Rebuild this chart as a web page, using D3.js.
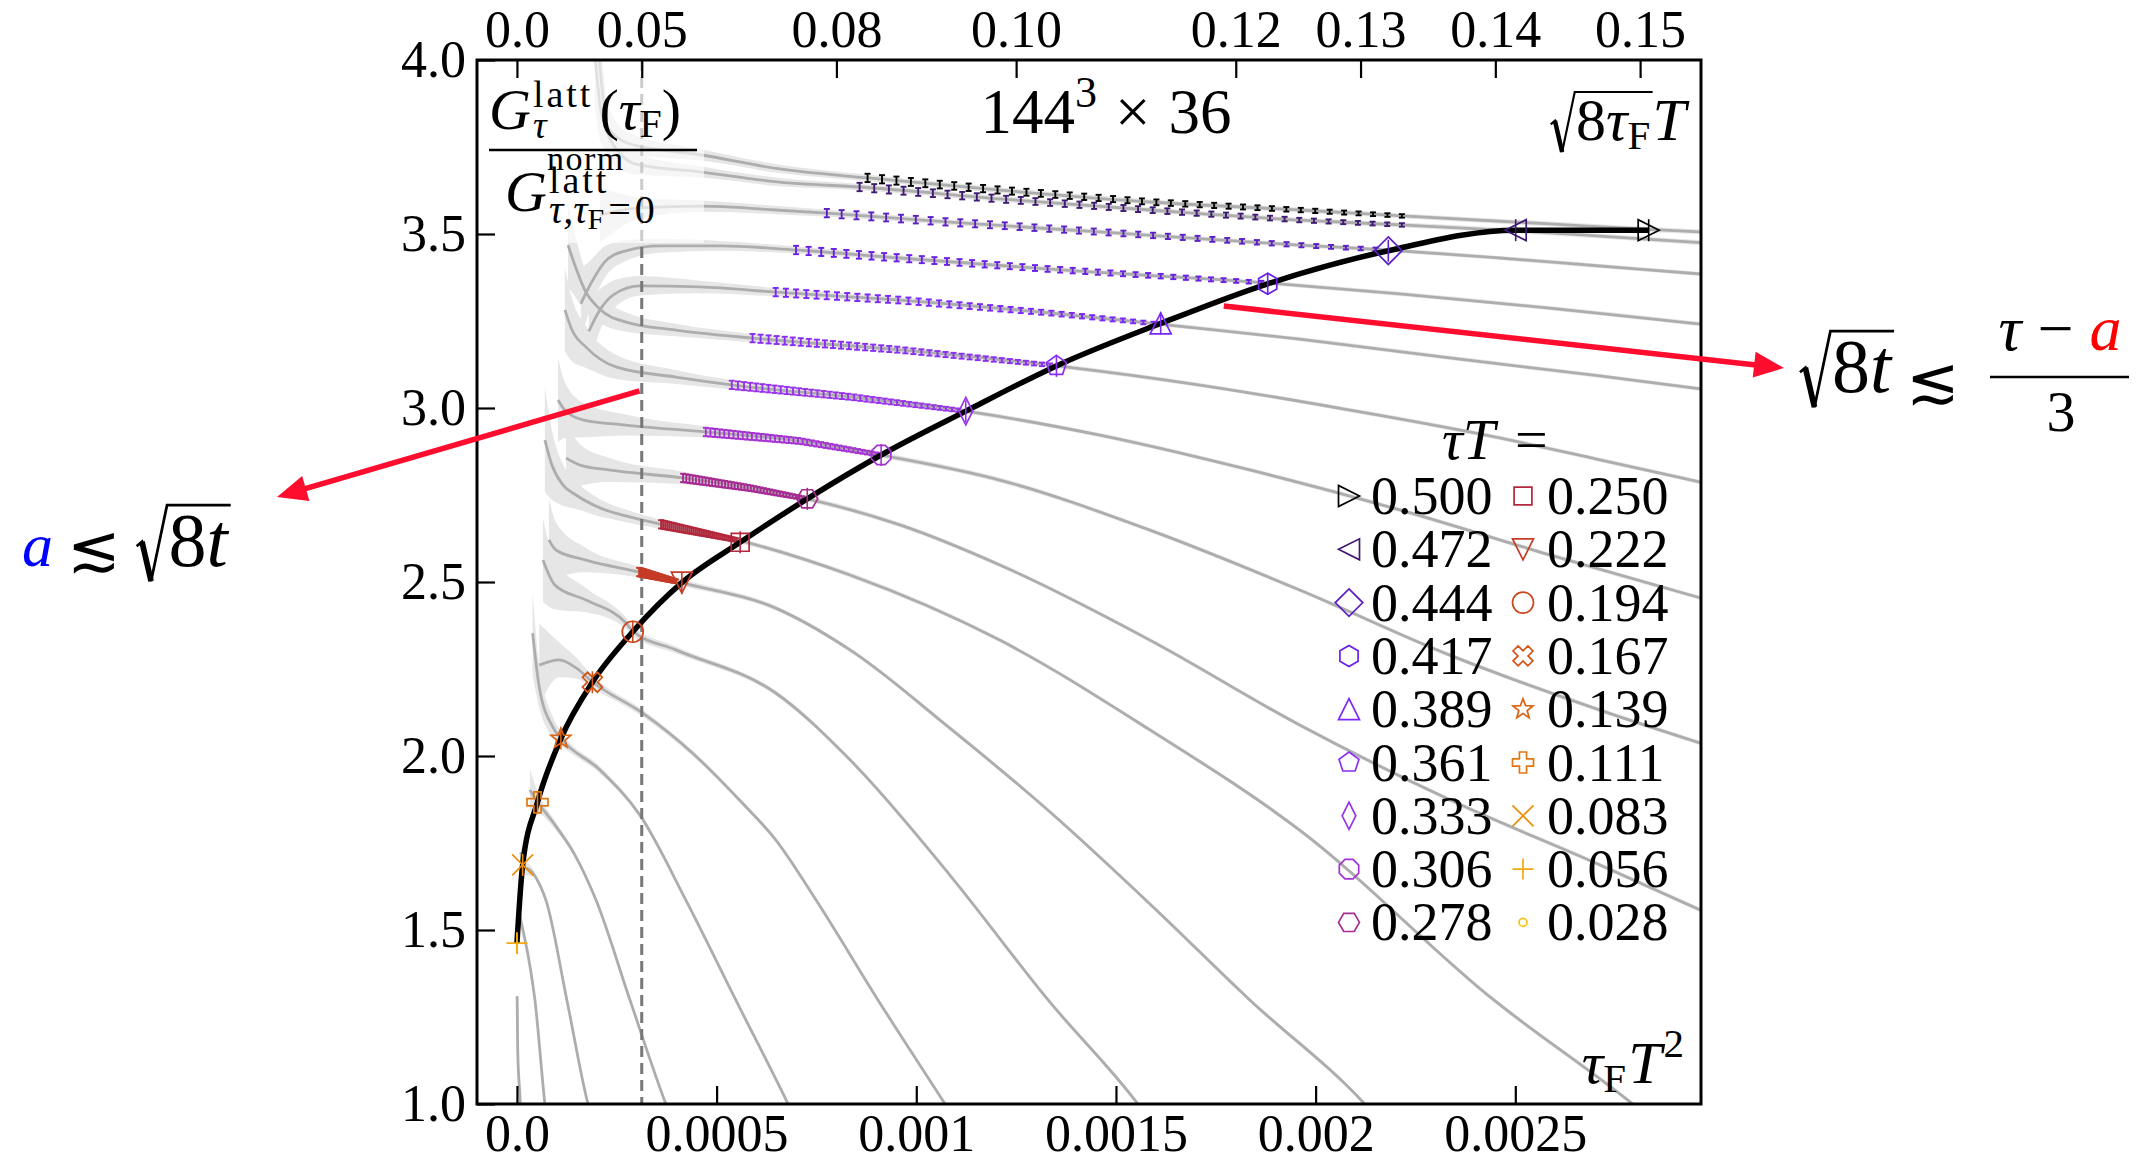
<!DOCTYPE html>
<html>
<head>
<meta charset="utf-8">
<script src="https://cdn.jsdelivr.net/npm/d3@7"></script>
<style>
  body { margin: 0; background: #ffffff; }
  svg { display: block; }
  text { font-family: "Liberation Serif", "DejaVu Serif", "DejaVu Sans", serif; }
</style>
</head>
<body>
<svg id="chart" width="2149" height="1158"></svg>
<script>
// ---------------------------------------------------------------------------
// Series: one flow curve per imaginary time tau*T
// ---------------------------------------------------------------------------
const tauT = ["0.500","0.472","0.444","0.417","0.389","0.361","0.333","0.306","0.278",
              "0.250","0.222","0.194","0.167","0.139","0.111","0.083","0.056","0.028"];

const seriesColors = ["#000000","#3f1a72","#5b1fc4","#6a1ee6","#7b27f7","#8a2ff2","#9933ea","#a532d2","#a62c92",
                      "#b3283c","#c53c27","#cb481f","#d25417","#da6313","#e2760f","#ea8e0c","#f1a90f","#f4c417"];

const markerTypes = ["triRight","triLeft","diamond","hexagon1","triUp","pentagon","thinDiamond","octagon","hexagon2",
                     "square","triDown","circle","xFilled","star","plusFilled","cross","plus","point"];

const markerX = [0.002834,0.002501,0.002182,0.00188,0.001612,0.001351,0.001124,0.000912,0.000727,
                 0.000559,0.000413,0.00029,0.000189,0.00011,0.0000515,0.0000143,0.0,null];
const markerY = [3.511,3.511,3.452,3.357,3.243,3.121,2.991,2.865,2.739,
                 2.614,2.498,2.357,2.212,2.05,1.867,1.687,1.462,null];

// flow curves: [tau_F T^2, ratio, half width of the error band]
const curve500 = [[0.000195,4.02,0.15],[0.000215,3.83,0.08],[0.00028,3.76,0.03],[0.000463,3.727,0.016],[0.000658,3.687,0.012],[0.000879,3.661,0.009],[0.001209,3.626,0.008],[0.001585,3.592,0.007],[0.00196,3.569,0.007],[0.002216,3.552,0.007],[0.002586,3.529,0.007],[0.002837,3.513,0.007],[0.002964,3.506,0.007]];
const curve472 = [[0.000205,4.02,0.15],[0.00023,3.78,0.07],[0.0003,3.70,0.03],[0.000463,3.678,0.016],[0.000658,3.649,0.012],[0.000859,3.635,0.009],[0.001209,3.601,0.008],[0.001585,3.569,0.007],[0.00196,3.540,0.007],[0.002216,3.526,0.007],[0.002501,3.509,0.007],[0.002712,3.494,0.007],[0.002964,3.475,0.007]];
const curve444 = [[0.000208,3.555,0.08],[0.000308,3.575,0.03],[0.000463,3.580,0.016],[0.000648,3.569,0.012],[0.000776,3.560,0.01],[0.001084,3.534,0.008],[0.00146,3.506,0.007],[0.00196,3.468,0.006],[0.002181,3.454,0.006],[0.002461,3.431,0.006],[0.002712,3.408,0.006],[0.002964,3.385,0.006]];
const curve417 = [[0.00016,3.30,0.10],[0.000183,3.353,0.07],[0.00022,3.420,0.045],[0.00027,3.451,0.03],[0.000358,3.466,0.02],[0.000508,3.466,0.014],[0.000699,3.454,0.01],[0.000959,3.431,0.008],[0.001335,3.399,0.007],[0.001885,3.359,0.006],[0.002211,3.328,0.006],[0.002586,3.287,0.006],[0.002964,3.241,0.006]];
const curve389 = [[0.00018,3.22,0.10],[0.000208,3.282,0.06],[0.000245,3.328,0.04],[0.000308,3.351,0.028],[0.000458,3.348,0.018],[0.000648,3.333,0.012],[0.000959,3.310,0.008],[0.001335,3.273,0.007],[0.00161,3.241,0.006],[0.00196,3.198,0.006],[0.002336,3.144,0.006],[0.002712,3.092,0.006],[0.002964,3.055,0.006]];
const curve361 = [[0.000128,3.468,0.12],[0.000145,3.411,0.09],[0.00017,3.339,0.06],[0.000208,3.284,0.04],[0.000273,3.247,0.028],[0.000398,3.224,0.018],[0.000588,3.201,0.012],[0.000959,3.167,0.008],[0.001352,3.121,0.007],[0.00171,3.066,0.006],[0.002086,2.994,0.006],[0.002461,2.914,0.006],[0.002712,2.851,0.006],[0.002964,2.787,0.006]];
const curve333 = [[0.00012,3.282,0.12],[0.000138,3.224,0.09],[0.000173,3.175,0.06],[0.000248,3.118,0.035],[0.000398,3.089,0.02],[0.000541,3.066,0.013],[0.000834,3.032,0.009],[0.001124,2.991,0.007],[0.00146,2.922,0.006],[0.001835,2.822,0.006],[0.002211,2.707,0.006],[0.002586,2.578,0.006],[0.002964,2.454,0.006]];
const curve306 = [[0.000103,3.023,0.12],[0.00012,2.994,0.08],[0.000165,2.966,0.05],[0.000273,2.951,0.03],[0.000473,2.931,0.016],[0.000709,2.905,0.01],[0.000911,2.865,0.008],[0.001209,2.793,0.007],[0.001585,2.649,0.006],[0.00196,2.477,0.006],[0.002336,2.290,0.006],[0.002712,2.132,0.006],[0.002964,2.037,0.006]];
const curve278 = [[0.000123,2.856,0.10],[0.000158,2.836,0.06],[0.00023,2.822,0.035],[0.000416,2.799,0.018],[0.000583,2.770,0.011],[0.000726,2.739,0.008],[0.000959,2.664,0.007],[0.001209,2.549,0.006],[0.001585,2.333,0.006],[0.00196,2.089,0.006],[0.002336,1.874,0.006],[0.002712,1.687,0.006],[0.002964,1.557,0.006]];
const curve250 = [[0.00007,2.908,0.15],[0.0000876,2.836,0.10],[0.000115,2.779,0.06],[0.000148,2.750,0.04],[0.000208,2.713,0.025],[0.000273,2.690,0.018],[0.000356,2.667,0.013],[0.000561,2.618,0.008],[0.000834,2.520,0.007],[0.001209,2.333,0.006],[0.001585,2.075,0.006],[0.00196,1.787,0.006],[0.002446,1.299,0.006],[0.002794,1.0,0.006],[0.0029,0.9,0.006]];
const curve222 = [[0.00008,2.621,0.12],[0.0000976,2.592,0.08],[0.000173,2.563,0.035],[0.000305,2.529,0.016],[0.000416,2.497,0.01],[0.000648,2.425,0.007],[0.000834,2.305,0.006],[0.001084,2.080,0.006],[0.001335,1.839,0.006],[0.001585,1.575,0.006],[0.001835,1.299,0.006],[0.002123,1.0,0.006],[0.0022,0.9,0.006]];
const curve194 = [[0.0000651,2.563,0.12],[0.0000951,2.491,0.07],[0.000173,2.448,0.035],[0.000273,2.382,0.016],[0.00029,2.359,0.014],[0.000398,2.305,0.01],[0.000648,2.181,0.007],[0.000834,1.989,0.006],[0.001084,1.658,0.006],[0.00133,1.299,0.006],[0.001555,1.0,0.006],[0.0016,0.93,0.006]];
const curve167 = [[0.0000558,2.261,0.12],[0.000106,2.276,0.05],[0.000148,2.253,0.03],[0.00019,2.212,0.018],[0.000315,2.123,0.01],[0.00044,2.008,0.008],[0.000565,1.864,0.006],[0.000648,1.759,0.006],[0.000749,1.586,0.006],[0.000904,1.299,0.006],[0.001072,1.0,0.006],[0.0011,0.95,0.006]];
const curve139 = [[0.0000393,2.353,0.12],[0.0000558,2.199,0.06],[0.0000894,2.084,0.03],[0.00011,2.051,0.02],[0.000208,1.960,0.01],[0.000308,1.830,0.007],[0.000423,1.586,0.006],[0.000548,1.299,0.006],[0.000679,1.0,0.006],[0.0007,0.95,0.006]];
const curve111 = [[0.0000326,1.902,0.06],[0.0000518,1.868,0.03],[0.0000951,1.802,0.012],[0.000145,1.716,0.008],[0.000198,1.586,0.006],[0.000283,1.299,0.006],[0.000373,1.0,0.006],[0.00039,0.95,0.006]];
const curve083 = [[0.00001,1.724,0.05],[0.0000143,1.687,0.03],[0.0000376,1.667,0.012],[0.0000576,1.629,0.008],[0.0000726,1.586,0.006],[0.000125,1.299,0.006],[0.000178,1.0,0.006],[0.00019,0.95,0.006]];
const curve056 = [[0.000005,1.552,0.03],[0.000015,1.5,0.012],[0.00003,1.414,0.006],[0.000045,1.299,0.006],[0.00007,1.0,0.006],[0.000075,0.95,0.006]];
const curve028 = [[0.0000005,1.31,0.006],[0.000002,1.15,0.006],[0.0000085,1.0,0.006],[0.00001,0.95,0.006]];

const flowCurves = [curve500,curve472,curve444,curve417,curve389,curve361,curve333,curve306,curve278,
                    curve250,curve222,curve194,curve167,curve139,curve111,curve083,curve056,curve028];

// flow-time window of the measured points (error bars), tau*T = 0.500 ... 0.222
const barStart = [0.000878,0.000858,0.000776,0.000699,0.000648,0.00059,0.000538,0.000473,0.000416,0.000361,0.000306];
const barEnd   = [0.002216,0.002216,0.00215,0.001864,0.001594,0.001335,0.001105,0.0009,0.000715,0.00055,0.000398];
const barCount = 38;
const barErrFirst = 0.012, barErrLast = 0.005;

// axes
const yTicks = [1.0,1.5,2.0,2.5,3.0,3.5,4.0];
const xTicks = [0,0.0005,0.001,0.0015,0.002,0.0025];
const xTickLabels = ["0.0","0.0005","0.001","0.0015","0.002","0.0025"];
const topTicks = [0.0,0.05,0.08,0.10,0.12,0.13,0.14,0.15];          // sqrt(8 tau_F) T
const topTickLabels = ["0.0","0.05","0.08","0.10","0.12","0.13","0.14","0.15"];
const cutoffSqrt8tT = 0.05;                                          // a ~ sqrt(8 t)

// ---------------------------------------------------------------------------
const svg = d3.select("#chart");
const L = 477, R = 1701, T = 60, B = 1104;
const x = d3.scaleLinear().domain([-0.0001, 0.002965]).range([L, R]);
const y = d3.scaleLinear().domain([1, 4]).range([B, T]);
const FS = 52;

svg.append("defs").append("clipPath").attr("id","plotClip")
  .append("rect").attr("x",L).attr("y",T).attr("width",R-L).attr("height",B-T);

const plot = svg.append("g").attr("clip-path","url(#plotClip)");

// error bands
const band = d3.area()
  .x(d => x(d[0])).y0(d => y(d[1]-d[2])).y1(d => y(d[1]+d[2]))
  .curve(d3.curveMonotoneX);
plot.append("g").selectAll("path").data(flowCurves).join("path")
  .attr("d", band).attr("fill","#e6e6e6");

// central values
const line = d3.line().x(d => x(d[0])).y(d => y(d[1])).curve(d3.curveMonotoneX);
plot.append("g").selectAll("path").data(flowCurves).join("path")
  .attr("d", line).attr("fill","none").attr("stroke","#adadad").attr("stroke-width",2.8);

// vertical cut at sqrt(8 tau_F) T = 0.05
const xCut = cutoffSqrt8tT*cutoffSqrt8tT/8;
plot.append("line").attr("x1",x(xCut)).attr("x2",x(xCut)).attr("y1",T).attr("y2",B)
  .attr("stroke","#777777").attr("stroke-width",3).attr("stroke-dasharray","11,6");

// white backing of the y label
svg.append("rect").attr("x",L+1).attr("y",T+1).attr("width",226).attr("height",182)
  .attr("fill","#ffffff").attr("opacity",0.62);

// measured points with error bars
function interp(pts, xv) {
  for (let i = 0; i < pts.length-1; i++) {
    if (xv >= pts[i][0] && xv <= pts[i+1][0]) {
      const f = (xv-pts[i][0])/(pts[i+1][0]-pts[i][0]);
      return pts[i][1] + f*(pts[i+1][1]-pts[i][1]);
    }
  }
  return pts[pts.length-1][1];
}
const bars = plot.append("g");
barStart.forEach((x0, i) => {
  const pts = d3.range(barCount).map(k => {
    const f = k/(barCount-1);
    const xv = x0 + f*(barEnd[i]-x0);
    return {xv, yv: interp(flowCurves[i], xv), e: barErrFirst + f*(barErrLast-barErrFirst)};
  });
  const g = bars.append("g").attr("stroke", seriesColors[i]).attr("stroke-width",1.9);
  pts.forEach(p => {
    const px = x(p.xv), top = y(p.yv+p.e), bot = y(p.yv-p.e);
    g.append("line").attr("x1",px).attr("x2",px).attr("y1",top).attr("y2",bot);
    g.append("line").attr("x1",px-3).attr("x2",px+3).attr("y1",top).attr("y2",top);
    g.append("line").attr("x1",px-3).attr("x2",px+3).attr("y1",bot).attr("y2",bot);
  });
});

// black line through the read-off points
const ridge = markerX.map((v,i) => [v, markerY[i]]).filter(d => d[0] !== null).sort((a,b) => a[0]-b[0]);
svg.append("path").datum(ridge)
  .attr("d", d3.line().x(d => x(d[0])).y(d => y(d[1])).curve(d3.curveMonotoneX))
  .attr("fill","none").attr("stroke","#000").attr("stroke-width",5.5).attr("stroke-linecap","butt");

// marker shapes
function pts2path(p) { return "M" + p.map(q => q[0].toFixed(2)+","+q[1].toFixed(2)).join("L") + "Z"; }
function poly(n, r, rot) {
  return pts2path(d3.range(n).map(k => {
    const a = rot + k*2*Math.PI/n;
    return [r*Math.cos(a), r*Math.sin(a)];
  }));
}
function markerPath(type, r) {
  const a = 0.34*r;
  const plusPts = [[-a,-r],[a,-r],[a,-a],[r,-a],[r,a],[a,a],[a,r],[-a,r],[-a,a],[-r,a],[-r,-a],[-a,-a]];
  switch (type) {
    case "triRight": return pts2path([[r,0],[-r,-r],[-r,r]]);
    case "triLeft": return pts2path([[-r,0],[r,-r],[r,r]]);
    case "triUp": return pts2path([[0,-r],[r,r],[-r,r]]);
    case "triDown": return pts2path([[0,r],[r,-r],[-r,-r]]);
    case "diamond": return pts2path([[0,-1.25*r],[1.25*r,0],[0,1.25*r],[-1.25*r,0]]);
    case "thinDiamond": return pts2path([[0,-1.3*r],[0.65*r,0],[0,1.3*r],[-0.65*r,0]]);
    case "square": return pts2path([[-0.85*r,-0.85*r],[0.85*r,-0.85*r],[0.85*r,0.85*r],[-0.85*r,0.85*r]]);
    case "hexagon1": return poly(6, r, -Math.PI/2);
    case "hexagon2": return poly(6, r, 0);
    case "pentagon": return poly(5, r, -Math.PI/2);
    case "octagon": return poly(8, r, Math.PI/8);
    case "circle": return `M${r},0A${r},${r} 0 1,1 ${-r},0A${r},${r} 0 1,1 ${r},0Z`;
    case "point": { const q = 0.38*r; return `M${q},0A${q},${q} 0 1,1 ${-q},0A${q},${q} 0 1,1 ${q},0Z`; }
    case "plusFilled": return pts2path(plusPts);
    case "xFilled": {
      const c = Math.SQRT1_2;
      return pts2path(plusPts.map(q => [c*(q[0]-q[1]), c*(q[0]+q[1])]));
    }
    case "star": return pts2path(d3.range(10).map(k => {
      const ang = -Math.PI/2 + k*Math.PI/5, rr = k%2 ? 0.42*r : r;
      return [rr*Math.cos(ang), rr*Math.sin(ang)];
    }));
    case "cross": return `M${-r},${-r}L${r},${r}M${-r},${r}L${r},${-r}`;
    case "plus": return `M${-r},0L${r},0M0,${-r}L0,${r}`;
  }
}
const markerSize = i => (markerTypes[i] === "diamond" ? 11 : 10.5);

const marks = svg.append("g");
markerX.forEach((mx, i) => {
  if (mx === null) return;
  const g = marks.append("g").attr("transform", `translate(${x(mx)},${y(markerY[i])})`);
  g.append("line").attr("x1",0).attr("x2",0).attr("y1",-11).attr("y2",11)
    .attr("stroke",seriesColors[i]).attr("stroke-width",1.6);
  g.append("path").attr("d", markerPath(markerTypes[i], markerSize(i)))
    .attr("fill","none").attr("stroke",seriesColors[i]).attr("stroke-width",1.7);
});

// ---------------------------------------------------------------------------
// axes
function styleAxis(g) {
  g.attr("font-family", null);
  g.select(".domain").remove();
  g.selectAll(".tick line").attr("stroke","#000").attr("stroke-width",2.2);
  g.selectAll(".tick text").attr("font-size",FS).attr("fill","#000");
}
svg.append("g").attr("transform",`translate(0,${B})`)
  .call(d3.axisBottom(x).tickValues(xTicks).tickFormat((d,i) => xTickLabels[i]).tickSizeInner(-18).tickSizeOuter(0).tickPadding(10))
  .call(styleAxis);
svg.append("g").attr("transform",`translate(0,${T})`)
  .call(d3.axisTop(x).tickValues(topTicks.map(v => v*v/8)).tickFormat((d,i) => topTickLabels[i]).tickSizeInner(-18).tickSizeOuter(0).tickPadding(13))
  .call(styleAxis);
svg.append("g").attr("transform",`translate(${L},0)`)
  .call(d3.axisLeft(y).tickValues(yTicks).tickFormat(d3.format(".1f")).tickSizeInner(-18).tickSizeOuter(0).tickPadding(11))
  .call(styleAxis);
svg.append("rect").attr("x",L).attr("y",T).attr("width",R-L).attr("height",B-T)
  .attr("fill","none").attr("stroke","#000").attr("stroke-width",3);

// ---------------------------------------------------------------------------
// small typesetting engine: runs of text, stacked scripts and radicals
function layout(g, items, cx) {
  let prevStart = cx, prevEnd = cx;
  items.forEach(it => {
    if (it.rad) {
      const fs = it.fs, x0 = cx + (it.dx || 0);
      const inner = x0 + 0.42*fs;
      const end = layout(g, it.rad, inner) + 0.04*fs;
      const top = -0.8*fs;
      g.append("path")
        .attr("d", `M${x0},${-0.26*fs}L${x0+0.07*fs},${-0.32*fs}L${x0+0.19*fs},${0.2*fs}L${x0+0.4*fs},${top}L${end},${top}`)
        .attr("fill","none").attr("stroke","#000").attr("stroke-width",0.036*fs).attr("stroke-linejoin","miter");
      g.append("line").attr("x1",x0+0.07*fs).attr("y1",-0.32*fs).attr("x2",x0+0.19*fs).attr("y2",0.2*fs)
        .attr("stroke","#000").attr("stroke-width",0.075*fs);
      prevStart = x0; prevEnd = end; cx = end;
      return;
    }
    const sx = it.stack ? prevStart : cx + (it.dx || 0);
    const t = g.append("text").attr("x", sx).attr("y", it.sh || 0)
      .attr("font-size", it.fs || FS).attr("font-style", it.it ? "italic" : "normal")
      .style("fill", it.fill || "#000").text(it.t);
    if (it.ls) t.attr("letter-spacing", it.ls);
    const ex = sx + t.node().getComputedTextLength();
    if (it.stack && !it.cont) { cx = Math.max(prevEnd, ex); prevEnd = cx; }
    else if (it.stack) { cx = ex; prevEnd = ex; }
    else { prevStart = sx; prevEnd = ex; cx = ex; }
  });
  return cx;
}
function formula(parent, x0, base, anchor, items) {
  const g = parent.append("g");
  const w = layout(g, items, 0);
  const ox = anchor === "end" ? x0 - w : anchor === "middle" ? x0 - w/2 : x0;
  g.attr("transform", `translate(${ox},${base})`);
  return g;
}

// title
formula(svg, 1106, 133, "middle", [{t:"144",fs:63},{t:"3",fs:44,sh:-26},{t:"×",fs:63,dx:18},{t:"36",fs:63,dx:18}]);

// top-right axis name: sqrt(8 tau_F) T
formula(svg, 1686, 140, "end", [
  {rad:[{t:"8",fs:60},{t:"τ",fs:60,it:1},{t:"F",fs:41,sh:9}], fs:60},
  {t:"T",fs:60,it:1}]);
// bottom-right axis name: tau_F T^2
formula(svg, 1684, 1083, "end", [{t:"τ",fs:60,it:1},{t:"F",fs:41,sh:9},{t:"T",fs:60,it:1,dx:2},{t:"2",fs:41,sh:-26,dx:2}]);

// y label as a fraction
formula(svg, 489, 129, "start", [
  {t:"G",fs:58,it:1},{t:"latt",fs:38,ls:3,sh:-22,dx:2},{t:"τ",fs:38,it:1,sh:9,stack:1},
  {t:"(",fs:58,dx:6},{t:"τ",fs:58,it:1},{t:"F",fs:40,sh:8},{t:")",fs:58}]);
svg.append("line").attr("x1",489).attr("x2",697).attr("y1",150).attr("y2",150)
  .attr("stroke","#000").attr("stroke-width",2.6);
formula(svg, 547, 170, "start", [{t:"norm",fs:34,ls:1.5}]);
formula(svg, 505, 211, "start", [
  {t:"G",fs:58,it:1},{t:"latt",fs:38,ls:3,sh:-18,dx:2},{t:"τ,τ",fs:40,it:1,sh:12,stack:1,cont:1},
  {t:"F",fs:30,sh:18},{t:"=0",fs:40,sh:12,dx:4,ls:4}]);

// legend
const legendG = svg.append("g");
formula(legendG, 1442, 459, "start", [{t:"τ",fs:58,it:1},{t:"T",fs:58,it:1},{t:"=",fs:58,dx:20}]);
tauT.forEach((lab, i) => {
  const col = i < 9 ? 0 : 1, row = i % 9;
  const cy = 496 + row*53.3;
  const mx = col ? 1523 : 1349;
  legendG.append("path").attr("transform",`translate(${mx},${cy})`)
    .attr("d", markerPath(markerTypes[i], markerSize(i)))
    .attr("fill","none").attr("stroke",seriesColors[i]).attr("stroke-width",1.7);
  legendG.append("text").attr("x", col ? 1547 : 1371).attr("y", cy+18)
    .attr("font-size",54).style("fill","#000").text(lab);
});

// ---------------------------------------------------------------------------
// annotations
const arrowRed = "#ff0d2e";
function arrow(x1, y1, x2, y2) {
  const dx = x2-x1, dy = y2-y1, len = Math.hypot(dx,dy), ux = dx/len, uy = dy/len;
  const hl = 30, hw = 13;
  const bx = x2-ux*hl, by = y2-uy*hl;
  svg.append("line").attr("x1",x1).attr("y1",y1).attr("x2",bx+ux*4).attr("y2",by+uy*4)
    .attr("stroke",arrowRed).attr("stroke-width",5.5);
  svg.append("path").attr("fill",arrowRed)
    .attr("d",`M${x2},${y2}L${bx-uy*hw},${by+ux*hw}L${bx+uy*hw},${by-ux*hw}Z`);
}
// from the cut line to "a <~ sqrt(8t)"
arrow(x(0.000307), y(3.049), 277, 497);
// from the ridge to "sqrt(8t) <~ (tau - a)/3"
arrow(x(0.00177), y(3.293), 1784, 368);

formula(svg, 22, 566, "start", [
  {t:"a",fs:62,it:1,fill:"#0000ff"},{t:"≲",fs:64,dx:14,sh:4},
  {rad:[{t:"8",fs:76},{t:"t",fs:76,it:1}], fs:76, dx:16}]);

formula(svg, 1800, 392, "start", [
  {rad:[{t:"8",fs:76},{t:"t",fs:76,it:1}], fs:76},
  {t:"≲",fs:64,dx:12,sh:10}]);
formula(svg, 2060, 350, "middle", [{t:"τ",fs:64,it:1},{t:"−",fs:64,dx:16},{t:"a",fs:64,it:1,fill:"#ff0000",dx:16}]);
svg.append("line").attr("x1",1990).attr("x2",2129).attr("y1",377).attr("y2",377)
  .attr("stroke","#000").attr("stroke-width",2.6);
formula(svg, 2061, 431, "middle", [{t:"3",fs:58}]);
</script>
</body>
</html>
